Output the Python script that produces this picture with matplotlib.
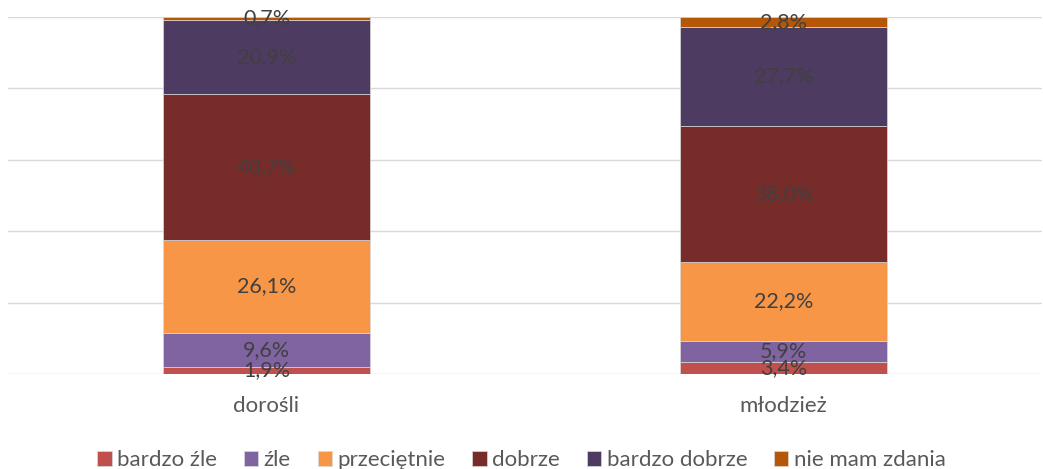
import numpy as np
import matplotlib.pyplot as plt

plt.rcParams['font.family'] = ['Lato', 'DejaVu Sans']

# survey results, percent of answers
groups = ['dorośli', 'młodzież']
answers = ['bardzo źle', 'źle', 'przeciętnie', 'dobrze', 'bardzo dobrze', 'nie mam zdania']
values = {
    'bardzo źle': [1.9, 3.4],
    'źle': [9.6, 5.9],
    'przeciętnie': [26.1, 22.2],
    'dobrze': [40.7, 38.0],
    'bardzo dobrze': [20.9, 27.7],
    'nie mam zdania': [0.7, 2.8],
}
colors = ['#C0504D', '#8064A2', '#F79646', '#772C2A', '#4D3B62', '#B65708']

fig = plt.figure(figsize=(10.43, 4.69), dpi=100)
ax = fig.add_axes([0.0077, 0.2026, 0.9913, 0.7612])

x = np.arange(len(groups))
bottom = np.zeros(len(groups))
for name, col in zip(answers, colors):
    v = np.array(values[name])
    ax.bar(x, v, 0.4, bottom=bottom, color=col, label=name, zorder=3,
           edgecolor='#D9D9D9', linewidth=0.5)
    for xi, b, h in zip(x, bottom, v):
        ax.text(xi, b + h / 2, f'{h:.1f}%'.replace('.', ','), ha='center', va='center',
                fontsize=15.5, color='#404040', zorder=4)
    bottom += v

ax.set_xlim(-0.5, 1.5)
ax.set_ylim(0, 100)
ax.set_yticks(np.arange(0, 101, 20))
ax.yaxis.grid(True, color='#D9D9D9', linewidth=1)
ax.set_yticklabels([])
ax.tick_params(left=False, bottom=False)
ax.set_xticks(x)
ax.set_xticklabels(groups, fontsize=16, color='#595959')
ax.tick_params(axis='x', pad=12)
for s in ax.spines.values():
    s.set_visible(False)

fig.legend(loc='lower center', bbox_to_anchor=(0.5, -0.045), ncol=6, frameon=False,
           fontsize=16, labelcolor='#595959', handlelength=0.65, handleheight=0.65,
           handletextpad=0.25, columnspacing=1.2)

fig.savefig('out.png', dpi=100)
